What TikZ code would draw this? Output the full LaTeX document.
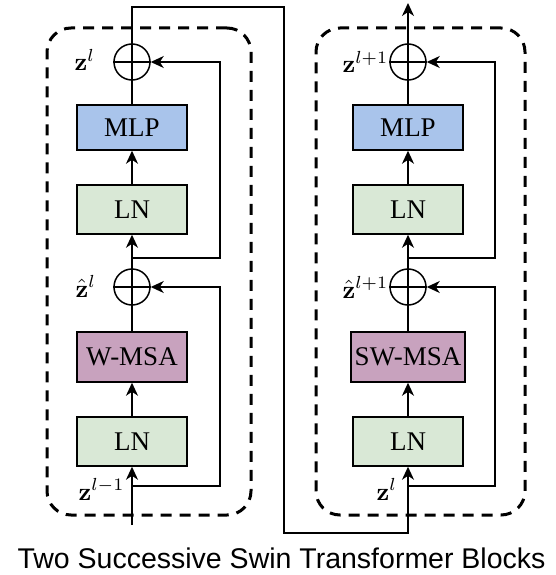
\documentclass[tikz,border=0pt]{standalone}
\usepackage[no-math]{fontspec}
\setmainfont{Liberation Serif}
\newfontfamily\capfont{Liberation Sans}
\usetikzlibrary{arrows.meta}
\definecolor{mlpblue}{HTML}{A9C4EB}
\definecolor{lngreen}{HTML}{D9E8D6}
\definecolor{msapurple}{HTML}{C8A2BE}
\tikzset{
  blk/.style={draw, line width=1.5pt, inner sep=0pt, font=\fontsize{27}{31}\selectfont},
  plus/.style={draw, circle, line width=1.5pt, minimum size=36pt, inner sep=0pt},
  conn/.style={line width=1.5pt},
  arr/.style={conn, -{Stealth[length=13pt,width=12pt,inset=4pt]}},
  dashbox/.style={draw, line width=3pt, dash pattern=on 11pt off 8pt, rounded corners=24pt, inner sep=0pt},
  lab/.style={inner sep=0pt, font=\normalsize, scale=2.5},
}
\begin{document}
\begin{tikzpicture}[x=1pt,y=-1pt]
\useasboundingbox (0,0) rectangle (555,575);
% dashed block outlines
\node[dashbox, minimum width=204pt, minimum height=487pt] (blk1) at (149,271.5) {};
\node[dashbox, minimum width=209pt, minimum height=487pt] (blk2) at (420.5,271.5) {};
% left block
\node[plus] (c1t) at (132,62) {};
\node[blk, fill=mlpblue, minimum width=110pt, minimum height=45pt] (mlp1) at (132,127.5) {MLP};
\node[blk, fill=lngreen, minimum width=110pt, minimum height=49pt] (ln1b) at (132,209.5) {LN};
\node[plus] (c1b) at (132,287) {};
\node[blk, fill=msapurple, minimum width=110pt, minimum height=50pt] (msa1) at (132,357) {W-MSA};
\node[blk, fill=lngreen, minimum width=110pt, minimum height=49pt] (ln1a) at (132,441.5) {LN};
% right block
\node[plus] (c2t) at (408,62) {};
\node[blk, fill=mlpblue, minimum width=110pt, minimum height=45pt] (mlp2) at (408,127.5) {MLP};
\node[blk, fill=lngreen, minimum width=110pt, minimum height=49pt] (ln2b) at (408,209.5) {LN};
\node[plus] (c2b) at (408,287) {};
\node[blk, fill=msapurple, minimum width=114pt, minimum height=50pt] (msa2) at (408,357) {SW-MSA};
\node[blk, fill=lngreen, minimum width=110pt, minimum height=49pt] (ln2a) at (408,441.5) {LN};
% plus signs
\foreach \c in {c1t,c1b,c2t,c2b}{
  \draw[line width=1.5pt] (\c.north) -- (\c.south) (\c.west) -- (\c.east);
}
% coordinates
\coordinate (in1) at (132,525);
\coordinate (s1a) at (132,486);
\coordinate (k1a) at (220,287);
\coordinate (s1b) at (132,258);
\coordinate (k1b) at (220,62);
\coordinate (t1) at (132,7);
\coordinate (t2) at (284,7);
\coordinate (t3) at (284,533);
\coordinate (t4) at (408,533);
\coordinate (s2a) at (408,486);
\coordinate (k2a) at (495,287);
\coordinate (s2b) at (408,258);
\coordinate (k2b) at (495,62);
\coordinate (out) at (408,3);
% left connectors
\draw[arr] (in1) -- (ln1a.south);
\draw[arr] (ln1a.north) -- (msa1.south);
\draw[conn] (msa1.north) -- (c1b.south);
\draw[arr] (c1b.north) -- (ln1b.south);
\draw[arr] (ln1b.north) -- (mlp1.south);
\draw[conn] (mlp1.north) -- (c1t.south);
\draw[arr] (s1a) -| (k1a) -- (c1b.east);
\draw[arr] (s1b) -| (k1b) -- (c1t.east);
% link between blocks
\draw[arr] (c1t.north) -- (t1) -- (t2) -- (t3) -- (t4) -- (ln2a.south);
% right connectors
\draw[arr] (ln2a.north) -- (msa2.south);
\draw[conn] (msa2.north) -- (c2b.south);
\draw[arr] (c2b.north) -- (ln2b.south);
\draw[arr] (ln2b.north) -- (mlp2.south);
\draw[conn] (mlp2.north) -- (c2t.south);
\draw[arr] (s2a) -| (k2a) -- (c2b.east);
\draw[arr] (s2b) -| (k2b) -- (c2t.east);
\draw[arr] (c2t.north) -- (out);
% labels
\node[lab, anchor=base west] (lz1) at (74,71) {$\mathbf{z}^l$};
\node[lab, anchor=base west] (lzh1) at (75,297) {$\hat{\mathbf{z}}^l$};
\node[lab, anchor=base west] (lzin) at (78,500) {$\mathbf{z}^{l-1}$};
\node[lab, anchor=base west] (lz2) at (342,73) {$\mathbf{z}^{l+1}$};
\node[lab, anchor=base west] (lzh2) at (342,298) {$\hat{\mathbf{z}}^{l+1}$};
\node[lab, anchor=base west] (lzin2) at (376,500) {$\mathbf{z}^l$};
% caption
\node[inner sep=0pt, anchor=base, font=\capfont\fontsize{28.5}{32}\selectfont] (cap) at (281.5,568) {Two Successive Swin Transformer Blocks};
\end{tikzpicture}
\end{document}
